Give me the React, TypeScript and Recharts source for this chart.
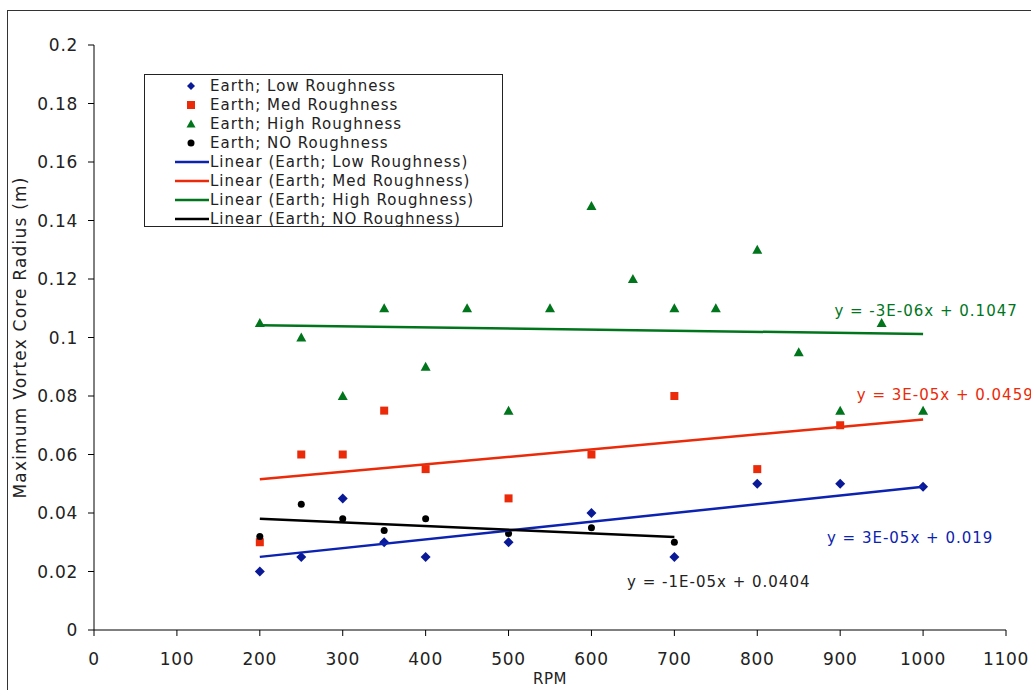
import React from 'react';
import {
  ScatterChart,
  Scatter,
  XAxis,
  YAxis,
  Legend,
  ReferenceDot,
} from 'recharts';

// RPM values per series
const rpmLow = [200, 250, 300, 350, 400, 500, 600, 700, 800, 900, 1000];
const radiusLow = [0.02, 0.025, 0.045, 0.03, 0.025, 0.03, 0.04, 0.025, 0.05, 0.05, 0.049];

const rpmMed = [200, 250, 300, 350, 400, 500, 600, 700, 800, 900];
const radiusMed = [0.03, 0.06, 0.06, 0.075, 0.055, 0.045, 0.06, 0.08, 0.055, 0.07];

const rpmHigh = [200, 250, 300, 350, 400, 450, 500, 550, 600, 650, 700, 750, 800, 850, 900, 950, 1000];
const radiusHigh = [0.105, 0.1, 0.08, 0.11, 0.09, 0.11, 0.075, 0.11, 0.145, 0.12, 0.11, 0.11, 0.13, 0.095, 0.075, 0.105, 0.075];

const rpmNo = [200, 250, 300, 350, 400, 500, 600, 700];
const radiusNo = [0.032, 0.043, 0.038, 0.034, 0.038, 0.033, 0.035, 0.03];

// Trend line endpoints (rpm, radius) as drawn
const trendLowEnds = [[200, 0.025], [1000, 0.049]];
const trendMedEnds = [[200, 0.0515], [1000, 0.072]];
const trendHighEnds = [[200, 0.1042], [1000, 0.1012]];
const trendNoEnds = [[200, 0.038], [700, 0.0318]];

const xTicks = [0, 100, 200, 300, 400, 500, 600, 700, 800, 900, 1000, 1100];
const yTicks = [0, 0.02, 0.04, 0.06, 0.08, 0.1, 0.12, 0.14, 0.16, 0.18, 0.2];

const BLUE = '#0a1a96';
const BLUE_LINE = '#0c22b0';
const RED = '#ea2a08';
const GREEN = '#00751c';
const BLACK = '#000000';
const TEXT = '#222';
const FONT = '"DejaVu Sans", Verdana, sans-serif';

const pairs = (xs: number[], ys: number[]) => xs.map((x, i) => ({ x, y: ys[i] }));
const ends = (e: number[][]) => e.map(([x, y]) => ({ x, y }));

const Diamond = (props: any) => {
  const { cx, cy } = props;
  return <polygon points={`${cx},${cy - 5} ${cx + 5},${cy} ${cx},${cy + 5} ${cx - 5},${cy}`} fill={BLUE} />;
};
const Square = (props: any) => {
  const { cx, cy } = props;
  return <rect x={cx - 4} y={cy - 4} width={8} height={8} fill={RED} />;
};
const Triangle = (props: any) => {
  const { cx, cy } = props;
  return <polygon points={`${cx},${cy - 5} ${cx + 5},${cy + 4} ${cx - 5},${cy + 4}`} fill={GREEN} />;
};
const Dot = (props: any) => {
  const { cx, cy } = props;
  return <circle cx={cx} cy={cy} r={3.5} fill={BLACK} />;
};
const NoShape = () => <g />;

const legendRows = [
  { label: 'Earth; Low Roughness', kind: 'diamond', color: BLUE },
  { label: 'Earth; Med Roughness', kind: 'square', color: RED },
  { label: 'Earth; High Roughness', kind: 'triangle', color: GREEN },
  { label: 'Earth; NO Roughness', kind: 'circle', color: BLACK },
  { label: 'Linear (Earth; Low Roughness)', kind: 'line', color: BLUE_LINE },
  { label: 'Linear (Earth; Med Roughness)', kind: 'line', color: RED },
  { label: 'Linear (Earth; High Roughness)', kind: 'line', color: GREEN },
  { label: 'Linear (Earth; NO Roughness)', kind: 'line', color: BLACK },
];

const LegendIcon = ({ kind, color }: { kind: string; color: string }) => (
  <svg width={35} height={12} style={{ display: 'block', flex: 'none' }}>
    {kind === 'diamond' && <polygon points="16,2 20,6 16,10 12,6" fill={color} />}
    {kind === 'square' && <rect x={12} y={2} width={8} height={8} fill={color} />}
    {kind === 'triangle' && <polygon points="16,1.5 20.5,9.5 11.5,9.5" fill={color} />}
    {kind === 'circle' && <circle cx={16} cy={6} r={3.5} fill={color} />}
    {kind === 'line' && <line x1={0} y1={6} x2={34} y2={6} stroke={color} strokeWidth={2.5} />}
  </svg>
);

const LegendBox = () => (
  <div
    style={{
      border: '1px solid #222',
      background: '#fff',
      width: 359,
      height: 153,
      boxSizing: 'border-box',
      paddingTop: 2,
      paddingLeft: 30,
      fontFamily: FONT,
      fontSize: 15,
      letterSpacing: 1,
      color: TEXT,
    }}
  >
    {legendRows.map((r) => (
      <div key={r.label} style={{ display: 'flex', alignItems: 'center', height: 18.9 }}>
        <LegendIcon kind={r.kind} color={r.color} />
        <span style={{ whiteSpace: 'nowrap' }}>{r.label}</span>
      </div>
    ))}
  </div>
);

const EqLabel = (props: any) => {
  const { viewBox, value, fill } = props;
  return (
    <text
      x={viewBox.x}
      y={viewBox.y}
      dy={5}
      fill={fill}
      fontFamily={FONT}
      fontSize={15}
      letterSpacing={1}
      textAnchor="start"
    >
      {value}
    </text>
  );
};

const App: React.FC = () => {
  return (
    <div style={{ position: 'absolute', left: 0, top: 0, width: 1031, height: 690, overflow: 'hidden', background: '#fff' }}>
      <div
        style={{
          position: 'absolute',
          left: 7,
          top: 10,
          width: 1100,
          height: 800,
          border: '1.5px solid #333',
        }}
      />
      <div style={{ position: 'absolute', left: 0, top: 0 }}>
        <ScatterChart width={1031} height={690} margin={{ top: 45, right: 25, bottom: 28, left: 34 }}>
          <XAxis
            type="number"
            dataKey="x"
            domain={[0, 1100]}
            ticks={xTicks}
            interval={0}
            stroke="#000"
            tickLine={{ stroke: '#000' }}
            tick={{ fill: TEXT, fontSize: 17, fontFamily: FONT, letterSpacing: 0.7 }}
            tickMargin={17}
            height={32}
            label={{
              value: 'RPM',
              position: 'insideBottom',
              offset: -22,
              fill: TEXT,
              fontSize: 15,
              fontFamily: FONT,
              letterSpacing: 0.5,
            }}
          />
          <YAxis
            type="number"
            dataKey="y"
            domain={[0, 0.2]}
            ticks={yTicks}
            interval={0}
            stroke="#000"
            tickLine={{ stroke: '#000' }}
            tick={{ fill: TEXT, fontSize: 17, fontFamily: FONT, letterSpacing: 0.7 }}
            tickMargin={10}
            width={60}
            label={{
              value: 'Maximum Vortex Core Radius (m)',
              angle: -90,
              position: 'insideLeft',
              offset: -14,
              style: { textAnchor: 'middle', fill: TEXT, fontSize: 17, fontFamily: FONT, letterSpacing: 1.2 },
            }}
          />
          <Legend
            verticalAlign="middle"
            align="center"
            content={<LegendBox />}
            wrapperStyle={{ position: 'absolute', left: 144, top: 74, width: 359 }}
          />
          <Scatter data={pairs(rpmLow, radiusLow)} shape={<Diamond />} isAnimationActive={false} />
          <Scatter data={pairs(rpmMed, radiusMed)} shape={<Square />} isAnimationActive={false} />
          <Scatter data={pairs(rpmHigh, radiusHigh)} shape={<Triangle />} isAnimationActive={false} />
          <Scatter data={pairs(rpmNo, radiusNo)} shape={<Dot />} isAnimationActive={false} />
          <Scatter data={ends(trendLowEnds)} line={{ stroke: BLUE_LINE, strokeWidth: 2.5 }} shape={<NoShape />} isAnimationActive={false} />
          <Scatter data={ends(trendMedEnds)} line={{ stroke: RED, strokeWidth: 2.5 }} shape={<NoShape />} isAnimationActive={false} />
          <Scatter data={ends(trendHighEnds)} line={{ stroke: GREEN, strokeWidth: 2.5 }} shape={<NoShape />} isAnimationActive={false} />
          <Scatter data={ends(trendNoEnds)} line={{ stroke: BLACK, strokeWidth: 2.5 }} shape={<NoShape />} isAnimationActive={false} />
          <ReferenceDot x={893} y={0.109} r={0} ifOverflow="visible" label={<EqLabel value="y = -3E-06x + 0.1047" fill={GREEN} />} />
          <ReferenceDot x={920} y={0.0805} r={0} ifOverflow="visible" label={<EqLabel value="y = 3E-05x + 0.0459" fill={RED} />} />
          <ReferenceDot x={884} y={0.0315} r={0} ifOverflow="visible" label={<EqLabel value="y = 3E-05x + 0.019" fill={BLUE_LINE} />} />
          <ReferenceDot x={643} y={0.0164} r={0} ifOverflow="visible" label={<EqLabel value="y = -1E-05x + 0.0404" fill={TEXT} />} />
        </ScatterChart>
      </div>
    </div>
  );
};

export default App;
